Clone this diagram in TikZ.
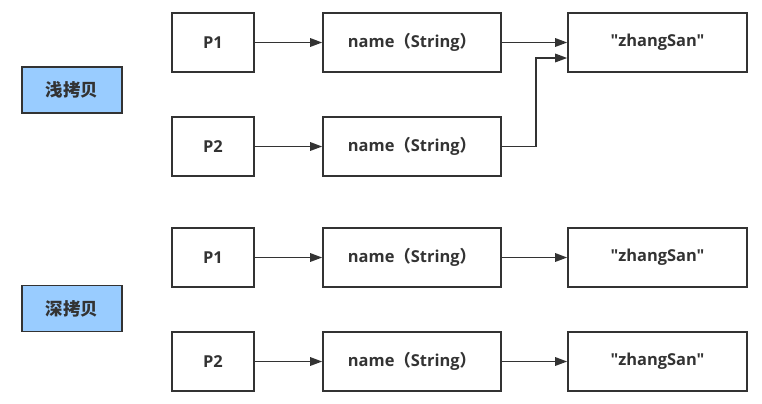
\documentclass[tikz,border=0pt]{standalone}
\usepackage{fontspec}
\newfontfamily\cjk{Noto Sans CJK SC}
\newfontfamily\latin{Open Sans}
\usetikzlibrary{arrows.meta,calc}
\definecolor{ink}{HTML}{333333}
\definecolor{lblue}{HTML}{99CCFF}
\tikzset{
  box/.style={draw=ink, line width=1.6bp, inner sep=0pt, text=ink,
    font=\latin\fontsize{16.5}{19}\selectfont\bfseries, minimum height=59bp},
  pbox/.style={box, minimum width=82bp},
  nbox/.style={box, minimum width=178bp},
  zbox/.style={box, minimum width=179bp},
  tag/.style={box, fill=lblue, minimum width=100bp, minimum height=46bp,
    font=\cjk\fontsize{17.5}{19}\selectfont\bfseries},
  conn/.style={draw=ink, line width=1.5bp, -{Triangle[length=12bp,width=8.5bp]}}
}
\newcommand{\nm}{name{\cjk （}String{\cjk ）}}
\begin{document}
\begin{tikzpicture}[x=1bp,y=-1bp]
\useasboundingbox (0,0) rectangle (762,403);
% shallow copy
\node[tag] (shallow) at (72,90) {浅拷贝};
\node[pbox] (pa1) at (213,42.5) {P1};
\node[nbox] (na1) at (412,42.5) {\nm};
\node[zbox] (za) at (657.5,42.5) {"zhangSan"};
\node[pbox] (pa2) at (213,146.5) {P2};
\node[nbox] (na2) at (412,146.5) {\nm};
\coordinate (zin) at ($(za.west)+(0,15.5)$);
\draw[conn] (pa1) -- (na1);
\draw[conn] (pa2) -- (na2);
\draw[conn] (na1) -- (za);
\draw[conn] (na2.east) -- ++(34,0) |- (zin);
% deep copy
\node[tag] (deep) at (72,308.5) {深拷贝};
\node[pbox] (pb1) at (213,257.5) {P1};
\node[nbox] (nb1) at (412,257.5) {\nm};
\node[zbox] (zb1) at (657.5,257.5) {"zhangSan"};
\node[pbox] (pb2) at (213,361.5) {P2};
\node[nbox] (nb2) at (412,361.5) {\nm};
\node[zbox] (zb2) at (657.5,361.5) {"zhangSan"};
\draw[conn] (pb1) -- (nb1);
\draw[conn] (nb1) -- (zb1);
\draw[conn] (pb2) -- (nb2);
\draw[conn] (nb2) -- (zb2);
\end{tikzpicture}
\end{document}
